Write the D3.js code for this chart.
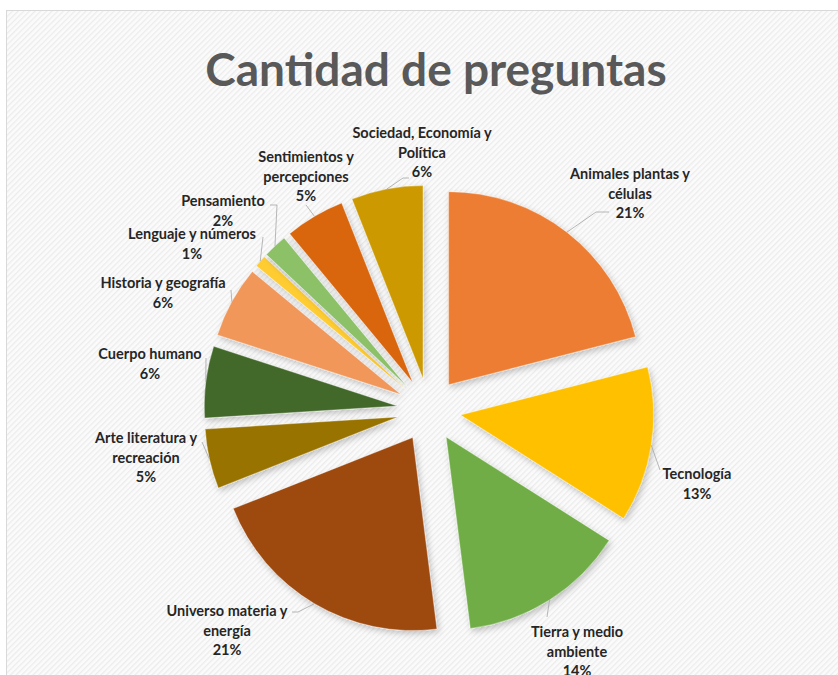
<!DOCTYPE html>
<html lang="es">
<head>
<meta charset="utf-8">
<title>Cantidad de preguntas</title>
<script src="https://d3js.org/d3.v7.min.js"></script>
<style>
  body { margin: 0; background: #fff; }
  text { font-family: Lato, "Open Sans", sans-serif; }
</style>
</head>
<body>
<div id="chart"></div>
<script>
// data (percent of questions, clockwise from 12 o'clock)
var categories = ["Animales plantas y células", "Tecnología", "Tierra y medio ambiente",
  "Universo materia y energía", "Arte literatura y recreación", "Cuerpo humano",
  "Historia y geografía", "Lenguaje y números", "Pensamiento",
  "Sentimientos y percepciones", "Sociedad, Economía y Política"];
var percents = [21, 13, 14, 21, 5, 6, 6, 1, 2, 5, 6];
var colors = ["#ED7D31", "#FFC000", "#70AD47", "#9E480E", "#997300", "#43682B",
  "#F1975A", "#FFCD33", "#8CC168", "#D9650F", "#CC9A06"];

// label layout: wrapped lines, centre x, first line y, leader end (and optional bend)
var labelLayout = [
  {lines: ["Animales plantas y", "células"], x: 630, y: 174, bend: [596, 212], end: [609, 212]},
  {lines: ["Tecnología"], x: 697, y: 474, end: [660, 470]},
  {lines: ["Tierra y medio", "ambiente"], x: 577, y: 632, end: [547, 617]},
  {lines: ["Universo materia y", "energía"], x: 227, y: 611, bend: [298, 612], end: [292, 612]},
  {lines: ["Arte literatura y", "recreación"], x: 146, y: 438, end: [202, 442]},
  {lines: ["Cuerpo humano"], x: 150, y: 354, end: [206, 358]},
  {lines: ["Historia y geografía"], x: 163, y: 283, end: [231, 290]},
  {lines: ["Lenguaje y números"], x: 192, y: 234, end: [263, 237]},
  {lines: ["Pensamiento"], x: 223, y: 201, bend: [277, 205], end: [270, 205]},
  {lines: ["Sentimientos y", "percepciones"], x: 306, y: 157, end: [306, 205]},
  {lines: ["Sociedad, Economía y", "Política"], x: 422, y: 133, bend: [403, 178], end: [409, 178]}
];

var W = 838, H = 675;
var cx = 429, cy = 410, radius = 193, explode = 32, lineH = 19.5;

var svg = d3.select("#chart").append("svg")
  .attr("width", W).attr("height", H);

var defs = svg.append("defs");
var pat = defs.append("pattern")
  .attr("id", "hatch").attr("patternUnits", "userSpaceOnUse")
  .attr("width", 4).attr("height", 4)
  .attr("patternTransform", "rotate(45)");
pat.append("rect").attr("width", 4).attr("height", 4).attr("fill", "#fbfbfb");
pat.append("rect").attr("width", 1.3).attr("height", 4).attr("fill", "#ececec");

var shadow = defs.append("filter").attr("id", "shadow")
  .attr("x", "-20%").attr("y", "-20%").attr("width", "140%").attr("height", "140%");
shadow.append("feDropShadow")
  .attr("dx", 2).attr("dy", 3).attr("stdDeviation", 3)
  .attr("flood-color", "#000").attr("flood-opacity", 0.22);

// chart area with hatched fill
svg.append("rect")
  .attr("x", 6.5).attr("y", 10.5).attr("width", W).attr("height", H)
  .attr("fill", "url(#hatch)").attr("stroke", "#d9d9d9");

svg.append("text")
  .attr("x", 436).attr("y", 86)
  .attr("text-anchor", "middle")
  .style("font-size", "46px").style("font-weight", "bold")
  .attr("fill", "#595959")
  .text("Cantidad de preguntas");

var data = categories.map(function(c, i) {
  return {name: c, value: percents[i], color: colors[i], layout: labelLayout[i]};
});

var pie = d3.pie().sort(null).value(function(d) { return d.value; });
var arcs = pie(data);
var arc = d3.arc().innerRadius(0).outerRadius(radius);

function offset(d) {
  var a = (d.startAngle + d.endAngle) / 2;
  return [explode * Math.sin(a), -explode * Math.cos(a)];
}

var g = svg.append("g").attr("transform", "translate(" + cx + "," + cy + ")");

g.selectAll("path.slice")
  .data(arcs)
  .enter().append("path")
    .attr("class", "slice")
    .attr("d", arc)
    .attr("transform", function(d) { var o = offset(d); return "translate(" + o[0] + "," + o[1] + ")"; })
    .attr("fill", function(d) { return d.data.color; })
    .attr("stroke", "rgba(255,255,255,0.45)")
    .attr("stroke-width", 0.8)
    .attr("filter", "url(#shadow)");

// leader lines from the outer arc (mid angle) to the labels
var leader = d3.line();
svg.selectAll("path.leader")
  .data(arcs)
  .enter().append("path")
    .attr("class", "leader")
    .attr("d", function(d) {
      var a = (d.startAngle + d.endAngle) / 2, o = offset(d), L = d.data.layout;
      var p0 = [cx + o[0] + radius * Math.sin(a), cy + o[1] - radius * Math.cos(a)];
      var pts = [p0];
      if (L.bend) pts.push(L.bend);
      pts.push(L.end);
      return leader(pts);
    })
    .attr("fill", "none")
    .attr("stroke", "#a6a6a6")
    .attr("stroke-width", 0.8);

var labels = svg.selectAll("text.lbl")
  .data(arcs)
  .enter().append("text")
    .attr("class", "lbl")
    .attr("text-anchor", "middle")
    .attr("fill", "#262626")
    .style("font-size", "14.5px")
    .style("font-weight", "bold");

labels.each(function(d) {
  var L = d.data.layout;
  var lines = L.lines.concat([d.data.value + "%"]);
  var t = d3.select(this);
  lines.forEach(function(s, i) {
    t.append("tspan")
      .attr("x", L.x)
      .attr("y", L.y + i * lineH)
      .attr("dy", "0.35em")
      .text(s);
  });
});
</script>
</body>
</html>
